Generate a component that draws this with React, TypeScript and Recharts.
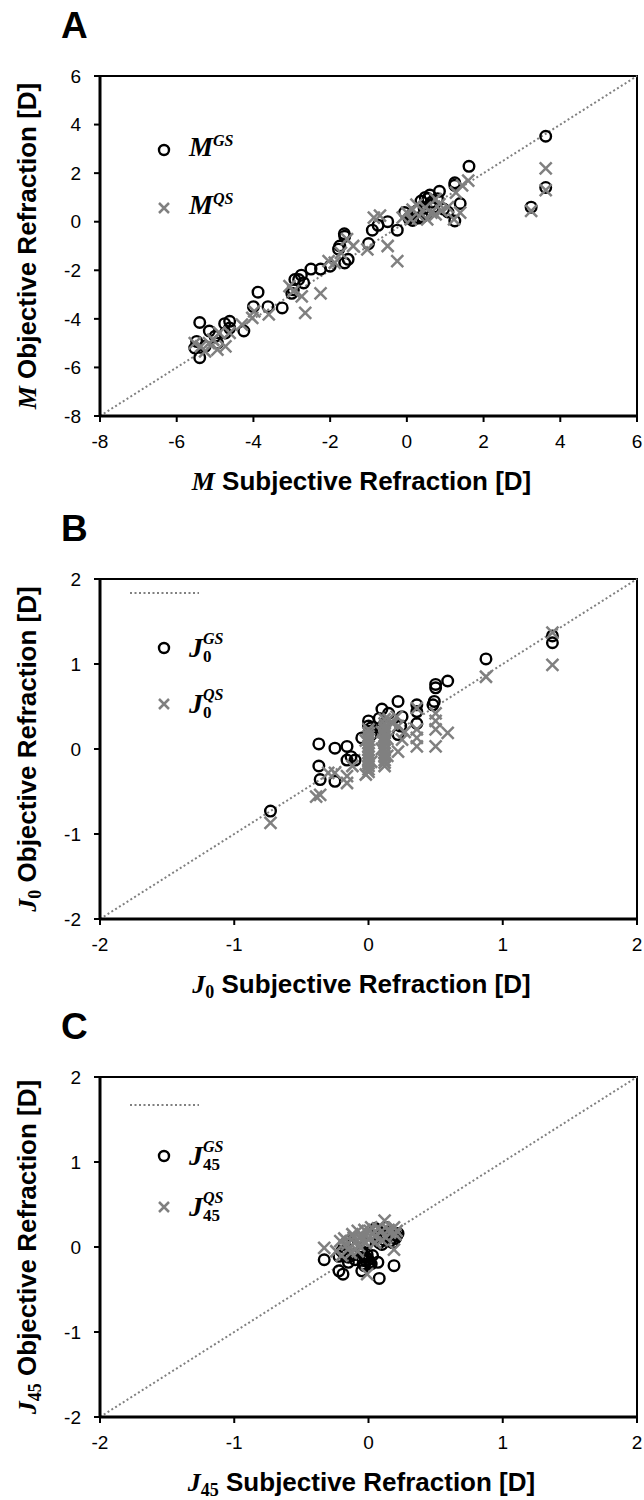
import { Legend, ReferenceArea, ReferenceLine, Scatter, ScatterChart, XAxis, YAxis } from 'recharts'

// Panel A: spherical equivalent M, [subjective, objective] in dioptres
const mGS: [number, number][] = [
  [3.62, 3.52], [3.62, 1.41], [3.24, 0.6], [1.62, 2.28], [1.25, 1.6], [1.25, 1.5], [1.39, 0.75],
  [1.25, 0.03], [0.85, 1.25], [0.6, 1.1], [0.48, 1.0], [0.37, 0.85], [0.64, 0.8], [0.96, 0.52],
  [1.07, 0.4], [0.26, 0.45], [0.1, 0.25], [-0.06, 0.38], [0.5, 0.3], [0.7, 0.6], [0.3, 0.15],
  [0.45, 0.55], [0.15, 0.05], [0.8, 0.95], [0.55, 0.95], [0.4, 0.2], [0.05, 0.15],
  [-0.25, -0.35], [-0.5, 0], [-0.75, -0.15], [-0.9, -0.35],
  [-1.0, -0.9], [-1.63, -0.5], [-1.62, -0.6], [-1.75, -1.0], [-1.78, -1.13], [-1.53, -1.55],
  [-1.62, -1.7], [-2.0, -1.83], [-2.25, -1.95], [-2.5, -1.95], [-2.75, -2.2], [-2.82, -2.38],
  [-2.92, -2.38], [-2.69, -2.52], [-3.0, -2.95], [-2.96, -2.8], [-3.88, -2.9], [-4.0, -3.5],
  [-3.62, -3.5], [-3.25, -3.55], [-4.25, -4.5], [-4.62, -4.1], [-4.75, -4.2], [-4.62, -4.38],
  [-4.73, -4.58], [-5.4, -4.15], [-5.15, -4.5], [-5.0, -4.72], [-4.94, -5.0], [-5.53, -5.2],
  [-5.4, -5.6], [-5.26, -5.13], [-5.48, -4.93],
]
const mQS: [number, number][] = [
  [3.62, 2.2], [3.62, 1.3], [3.24, 0.45], [1.6, 1.69], [1.44, 1.5], [1.28, 1.2], [1.39, 0.37],
  [1.23, 0.1], [1.07, 0.6], [0.85, 0.72], [0.75, 0.93], [0.64, 0.37], [0.48, 0.58], [0.32, 0.23],
  [0.15, 0.5], [0, 0.37], [-0.11, 0.17], [0.1, 0.1], [0.53, 0.1], [0.75, 0.3], [0.25, 0.7],
  [0.9, 0.45], [-0.7, 0.25],
  [-0.86, 0.17], [-0.5, -1.0], [-0.25, -1.62], [-1.03, -1.14], [-1.4, -1.0], [-1.56, -0.72],
  [-1.72, -1.28], [-1.88, -1.69], [-2.04, -1.62], [-2.25, -2.95], [-2.65, -3.75], [-2.74, -3.07],
  [-2.96, -2.86], [-3.06, -2.65], [-3.6, -3.82], [-3.98, -3.69], [-4.03, -3.96], [-4.3, -4.24],
  [-4.62, -4.58], [-4.73, -5.13], [-4.94, -5.27], [-5.16, -5.0], [-5.37, -5.13], [-5.53, -5.0],
  [-5.26, -5.34], [-5.05, -4.86], [-4.89, -4.58],
]

// Panel B: J0
const j0GS: [number, number][] = [
  [1.37, 1.25], [1.37, 1.33], [0.875, 1.06], [0.59, 0.8], [0.5, 0.76], [0.5, 0.72], [0.49, 0.56],
  [0.48, 0.52], [0.36, 0.52], [0.36, 0.44], [0.36, 0.3], [0.22, 0.56], [0.25, 0.38], [0.24, 0.27],
  [0.22, 0.17], [0.1, 0.47], [0.15, 0.42], [0.08, 0.36], [0, 0.33], [0, 0.27], [-0.05, 0.13],
  [0.02, 0.17], [0.12, 0.3], [0.1, 0.24], [0.02, 0.25], [-0.37, 0.06], [-0.25, 0.01], [-0.16, 0.03],
  [-0.16, -0.13], [-0.13, -0.09], [-0.1, -0.13], [-0.37, -0.2], [-0.36, -0.36], [-0.25, -0.38],
  [-0.73, -0.73],
]
const j0QS: [number, number][] = [
  [1.37, 1.37], [1.37, 0.99], [0.875, 0.85], [0.59, 0.19], [0.5, 0.33], [0.5, 0.23], [0.5, 0.03],
  [0.5, 0.42], [0.36, 0.48], [0.36, 0.23], [0.36, 0.13], [0.36, 0.03], [0.22, -0.03], [0.22, 0.27],
  [0.21, 0.38], [0.25, 0.11], [0.27, 0.2], [0.18, 0.3], [0.15, 0.35],
  [0.12, 0.35], [0.12, 0.3], [0.12, 0.26], [0.12, 0.23], [0.12, 0.19], [0.12, 0.15], [0.12, 0.11],
  [0.12, 0.07], [0.12, 0.03], [0.12, -0.01], [0.12, -0.05], [0.12, -0.09], [0.12, -0.13],
  [0.12, -0.16], [0.12, -0.2], [0.1, 0.2], [0.1, 0.0], [0.14, 0.12], [0.14, -0.08],
  [0, 0.23], [0, 0.19], [0, 0.15], [0, 0.11], [0, 0.07], [0, 0.03], [0, -0.01], [0, -0.05],
  [0, -0.09], [0, -0.13], [0, -0.17], [0, -0.2], [0, -0.24], [0, -0.27], [-0.02, -0.3],
  [-0.02, 0.1], [0.02, -0.15],
  [-0.12, -0.2], [-0.16, -0.32], [-0.16, -0.4], [-0.25, -0.28], [-0.3, -0.28],
  [-0.36, -0.54], [-0.39, -0.56], [-0.73, -0.87],
]

// Panel C: J45
const j45GS: [number, number][] = [
  [-0.33, -0.15], [-0.22, -0.28], [-0.19, -0.32], [-0.15, -0.18], [-0.05, -0.28], [0.07, -0.18],
  [0.08, -0.37], [0.19, -0.22], [-0.02, -0.16], [-0.01, -0.09], [-0.05, -0.05], [-0.11, -0.09],
  [-0.18, -0.09], [0.1, 0.03], [0.16, 0.07], [0.21, 0.13], [0.07, 0.19], [0.01, 0.15], [-0.08, 0.11],
  [-0.15, 0.07], [-0.22, -0.11], [0.13, 0.23], [0.01, -0.18], [-0.04, -0.2],
  [-0.2, -0.05], [-0.15, -0.12], [-0.1, -0.15], [-0.05, -0.12], [0, -0.15], [0.03, -0.1],
  [-0.03, -0.22], [0.02, -0.2], [-0.02, -0.12], [0.05, 0.1], [0.1, 0.15], [0.15, 0.18],
  [0.2, 0.1], [0.22, 0.16], [0.18, 0.05], [0.12, 0.08], [-0.12, 0.02], [-0.18, 0.03],
  [0.05, 0.22], [0.08, 0.05], [-0.02, 0.05],
]
const j45QS: [number, number][] = [
  [-0.33, -0.01], [0.12, 0.31], [0.19, 0.23], [0.19, -0.03], [-0.01, -0.32], [-0.21, 0.07],
  [-0.24, -0.05], [-0.16, 0.03], [-0.11, 0.11], [-0.05, 0.13], [0.01, 0.19], [0.05, 0.13],
  [0.1, 0.19], [0.13, 0.11], [0.21, 0.19], [-0.07, 0.01], [-0.13, -0.07], [-0.02, 0.05],
  [0.02, 0.23], [-0.08, 0.19], [0.16, 0.17], [-0.18, 0.1], [-0.15, -0.02], [-0.1, 0.05],
  [-0.05, 0.08], [0, 0.1], [0.03, 0.15], [0.07, 0.22], [0.1, 0.08], [-0.03, 0.2], [0.05, 0.05],
  [-0.08, -0.05], [-0.2, -0.1], [0.15, 0.2], [0.2, 0.15], [-0.12, 0.15],
]

const mTicks = [-8, -6, -4, -2, 0, 2, 4, 6]
const jTicks = [-2, -1, 0, 1, 2]

const SANS = 'Liberation Sans, Arial, sans-serif'
const SERIF = 'Liberation Serif, Times New Roman, serif'
const GREY = '#808080'

const toPts = (arr: [number, number][]) => arr.map(([x, y]) => ({ x, y }))

const Ring = (p: any) => (
  <circle cx={p.cx} cy={p.cy} r={5.3} fill="none" stroke="#000" strokeWidth={2.4} />
)
const Cross = (p: any) => {
  const s = 6
  return (
    <path
      d={`M${p.cx - s},${p.cy - s}L${p.cx + s},${p.cy + s}M${p.cx - s},${p.cy + s}L${p.cx + s},${p.cy - s}`}
      stroke={GREY}
      strokeWidth={2.5}
      fill="none"
    />
  )
}

// symbol in front of the axis titles: M, J0 or J45
const Sym = ({ sub }: { sub?: string }) => (
  <>
    <tspan fontFamily={SERIF} fontStyle="italic">{sub ? 'J' : 'M'}</tspan>
    {sub && <tspan fontFamily={SERIF} fontSize={18} dy={5}>{sub}</tspan>}
  </>
)

function KeyLabel({ x, y, sup, sub }: { x: number; y: number; sup: string; sub?: string }) {
  if (!sub) {
    return (
      <text x={x} y={y + 6} fontFamily={SERIF} fontStyle="italic" fontWeight="bold" fill="#000">
        <tspan fontSize={27}>M</tspan>
        <tspan fontSize={16} dy={-10}>{sup}</tspan>
      </text>
    )
  }
  return (
    <text fontFamily={SERIF} fontWeight="bold" fill="#000">
      <tspan x={x} y={y + 9} fontSize={28} fontStyle="italic">J</tspan>
      <tspan x={x + 14} y={y - 4} fontSize={16} fontStyle="italic">{sup}</tspan>
      <tspan x={x + 14} y={y + 14} fontSize={17}>{sub}</tspan>
    </text>
  )
}

interface PanelProps {
  top: number
  letter: string
  gs: [number, number][]
  qs: [number, number][]
  lo: number
  hi: number
  ticks: number[]
  sub?: string
  keyRows: [number, number]
  lineKeyY?: number
}

function Panel({ top, letter, gs, qs, lo, hi, ticks, sub, keyRows, lineKeyY }: PanelProps) {
  const tickStyle = { fill: '#000', fontSize: 19, fontFamily: SANS }
  const xTitle = (props: any) => {
    const vb = props.viewBox
    return (
      <text x={vb.x + vb.width / 2 - 7} y={vb.y + 74} textAnchor="middle" fontFamily={SANS} fontWeight="bold" fontSize={26} fill="#000">
        <Sym sub={sub} />
        <tspan dy={sub ? -5 : 0}>{'\u00a0Subjective Refraction [D]'}</tspan>
      </text>
    )
  }
  const yTitle = (props: any) => {
    const vb = props.viewBox
    const cy = vb.y + vb.height / 2
    return (
      <text x={27} y={cy + 9} transform={`rotate(-90, 27, ${cy})`} textAnchor="middle" fontFamily={SANS} fontWeight="bold" fontSize={26} fill="#000">
        <Sym sub={sub} />
        <tspan dy={sub ? -5 : 0}>{'\u00a0Objective Refraction [D]'}</tspan>
      </text>
    )
  }
  const renderKey = () => (
    <svg width={300} height={240} style={{ position: 'absolute', left: 0, top: 0, overflow: 'visible' }}>
      {lineKeyY != null && (
        <line x1={130} y1={lineKeyY} x2={199} y2={lineKeyY} stroke={GREY} strokeWidth={2} strokeDasharray="2 2.5" />
      )}
      <circle cx={164} cy={keyRows[0]} r={5} fill="none" stroke="#000" strokeWidth={2.4} />
      <KeyLabel x={189} y={keyRows[0]} sup="GS" sub={sub} />
      <path
        d={`M159,${keyRows[1] - 5}L169,${keyRows[1] + 5}M159,${keyRows[1] + 5}L169,${keyRows[1] - 5}`}
        stroke={GREY}
        strokeWidth={2.5}
      />
      <KeyLabel x={189} y={keyRows[1]} sup="QS" sub={sub} />
    </svg>
  )

  return (
    <div style={{ position: 'absolute', left: 0, top, width: 644, height: 500 }}>
      <div style={{ position: 'absolute', left: 61, top: 4, fontFamily: SANS, fontWeight: 'bold', fontSize: 37, lineHeight: '44px' }}>
        {letter}
      </div>
      <ScatterChart width={644} height={500} margin={{ top: 76, right: 7, bottom: 54, left: 0 }}>
        <ReferenceArea x1={lo} x2={hi} y1={lo} y2={hi} fill="none" fillOpacity={0} stroke="#000" strokeWidth={2} />
        <ReferenceLine segment={[{ x: lo, y: lo }, { x: hi, y: hi }]} stroke={GREY} strokeWidth={2} strokeDasharray="2 2.5" />
        <XAxis
          type="number"
          dataKey="x"
          domain={[lo, hi]}
          ticks={ticks}
          allowDataOverflow
          height={30}
          axisLine={{ stroke: '#000', strokeWidth: 3 }}
          tickLine={{ stroke: '#000', strokeWidth: 2 }}
          tickSize={6}
          tickMargin={13}
          tick={tickStyle}
          label={{ content: xTitle }}
        />
        <YAxis
          type="number"
          dataKey="y"
          domain={[lo, hi]}
          ticks={ticks}
          allowDataOverflow
          width={100}
          axisLine={{ stroke: '#000', strokeWidth: 3 }}
          tickLine={{ stroke: '#000', strokeWidth: 2 }}
          tickSize={6}
          tickMargin={13}
          tick={tickStyle}
          label={{ content: yTitle }}
        />
        <Scatter data={toPts(gs)} shape={Ring} isAnimationActive={false} />
        <Scatter data={toPts(qs)} shape={Cross} isAnimationActive={false} />
        <Legend
          layout="vertical"
          align="center"
          verticalAlign="middle"
          wrapperStyle={{ left: 0, top: 0, width: 1, height: 1, overflow: 'visible' }}
          content={renderKey}
        />
      </ScatterChart>
    </div>
  )
}

export default function App() {
  return (
    <div style={{ position: 'absolute', left: 0, top: 0, width: 644, height: 1500, overflow: 'hidden', background: '#fff', fontFamily: SANS }}>
      <Panel top={0} letter="A" gs={mGS} qs={mQS} lo={-8} hi={6} ticks={mTicks} keyRows={[150, 208]} />
      <Panel top={503} letter="B" gs={j0GS} qs={j0QS} lo={-2} hi={2} ticks={jTicks} sub="0" keyRows={[145, 201]} lineKeyY={90} />
      <Panel top={1001} letter="C" gs={j45GS} qs={j45QS} lo={-2} hi={2} ticks={jTicks} sub="45" keyRows={[155, 206]} lineKeyY={104} />
    </div>
  )
}
